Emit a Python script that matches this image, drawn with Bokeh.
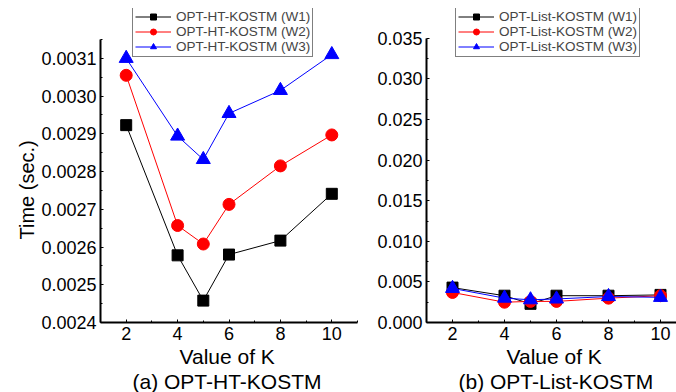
from bokeh.plotting import figure
from bokeh.layouts import row
from bokeh.models import Range1d, FixedTicker, Legend, LegendItem, Title, PrintfTickFormatter
from bokeh.embed import file_html
from bokeh.resources import INLINE

# ---- data ----
k_values = [2, 4, 5, 6, 8, 10]

ht_w1 = [0.002923, 0.002578, 0.002458, 0.002580, 0.002617, 0.002741]
ht_w2 = [0.003055, 0.002657, 0.002608, 0.002713, 0.002815, 0.002897]
ht_w3 = [0.003100, 0.002894, 0.002832, 0.002954, 0.003015, 0.003110]

list_w1 = [0.00430, 0.00330, 0.00230, 0.00330, 0.00330, 0.00340]
list_w2 = [0.00370, 0.00250, 0.00260, 0.00260, 0.00300, 0.00330]
list_w3 = [0.00420, 0.00300, 0.00280, 0.00290, 0.00320, 0.00310]

ht_labels = ["OPT-HT-KOSTM (W1)", "OPT-HT-KOSTM (W2)", "OPT-HT-KOSTM (W3)"]
list_labels = ["OPT-List-KOSTM (W1)", "OPT-List-KOSTM (W2)", "OPT-List-KOSTM (W3)"]

x_ticks = [2, 4, 6, 8, 10]
x_minor = [1, 3, 5, 7, 9, 11]
ht_yticks = [0.0024, 0.0025, 0.0026, 0.0027, 0.0028, 0.0029, 0.0030, 0.0031]
ht_yminor = [0.00245, 0.00255, 0.00265, 0.00275, 0.00285, 0.00295, 0.00305, 0.00315]
list_yticks = [0.000, 0.005, 0.010, 0.015, 0.020, 0.025, 0.030, 0.035]
list_yminor = [0.0025, 0.0075, 0.0125, 0.0175, 0.0225, 0.0275, 0.0325]

ht_axis_bounds = (0.0024, 0.00315)
list_axis_bounds = (0.0, 0.035)

x_axis_title = "Value of K"
y_axis_title = "Time (sec.)"
caption_a = "(a) OPT-HT-KOSTM"
caption_b = "(b) OPT-List-KOSTM"

colors = ["black", "#FF0000", "#0000FF"]
markers = ["square", "circle", "triangle"]
msizes = [11, 12, 14]

FONT = "Liberation Sans"
H = 392
FRAME_TOP = 8
FRAME_BOTTOM = 323
FRAME_H = FRAME_BOTTOM - FRAME_TOP


def style_axes(p, yfmt, bounds):
    for ax in (p.xaxis[0], p.yaxis[0]):
        ax.axis_line_width = 2
        ax.axis_line_color = "black"
        ax.major_tick_in = 3
        ax.major_tick_out = 0
        ax.minor_tick_in = 2
        ax.minor_tick_out = 0
        ax.major_tick_line_color = "black"
        ax.minor_tick_line_color = "black"
        ax.major_label_text_font = FONT
        ax.major_label_text_font_size = "18px"
        ax.major_label_text_color = "black"
        ax.major_label_standoff = 4
    p.yaxis[0].bounds = bounds
    p.yaxis[0].formatter = PrintfTickFormatter(format=yfmt)
    p.xgrid.visible = False
    p.ygrid.visible = False
    p.outline_line_color = None


def add_series(p, ys_list, labels, loc):
    items = []
    for ys, lab, c, m, s in zip(ys_list, labels, colors, markers, msizes):
        lr = p.line(k_values, ys, line_color=c, line_width=1)
        sr = p.scatter(k_values, ys, marker=m, size=s, fill_color=c, line_color=c)
        items.append(LegendItem(label=lab, renderers=[lr, sr]))
    leg = Legend(items=items, location=loc, margin=0, padding=2, spacing=0,
                 glyph_width=36, glyph_height=15, label_height=15, label_standoff=5,
                 label_text_font=FONT, label_text_font_size="13.5px",
                 border_line_color="black", border_line_width=1,
                 background_fill_color="white", background_fill_alpha=1.0)
    p.add_layout(leg)


def add_bottom_titles(p, off1, off2, caption):
    p.add_layout(Title(text=x_axis_title, align="left", offset=off1, standoff=0,
                       text_font=FONT, text_font_size="21px", text_font_style="normal",
                       text_color="black"), "below")
    p.add_layout(Title(text=caption, align="left", offset=off2, standoff=0,
                       text_font=FONT, text_font_size="21px", text_font_style="normal",
                       text_color="black"), "below")


def top_of_range(lo, hi_tick, hi_tick_px):
    # extend y range so that the frame reaches FRAME_TOP while hi_tick sits at hi_tick_px
    per_px = (hi_tick - lo) / (FRAME_BOTTOM - hi_tick_px)
    return lo + per_px * FRAME_H


# ---- left figure ----
ht_top = top_of_range(0.0024, 0.0031, 58)
p1 = figure(width=362, height=H, x_range=Range1d(1, 11), y_range=Range1d(0.0024, ht_top),
            output_backend="svg", toolbar_location=None,
            min_border_left=100, min_border_right=5, min_border_top=FRAME_TOP,
            min_border_bottom=H - FRAME_BOTTOM)
p1.xaxis[0].ticker = FixedTicker(ticks=x_ticks, minor_ticks=x_minor)
p1.yaxis[0].ticker = FixedTicker(ticks=ht_yticks, minor_ticks=ht_yminor)
style_axes(p1, "%.4f", ht_axis_bounds)
p1.add_layout(Title(text=y_axis_title, align="left", offset=83, standoff=0,
                    vertical_align="middle",
                    text_font=FONT, text_font_size="20px", text_font_style="normal",
                    text_color="black"), "left")
add_series(p1, [ht_w1, ht_w2, ht_w3], ht_labels, (32, 265))
add_bottom_titles(p1, 79, 32, caption_a)

# ---- right figure ----
list_top = top_of_range(0.0, 0.035, 38)
p2 = figure(width=314, height=H, x_range=Range1d(1, 1 + 250 / 26.0), y_range=Range1d(0.0, list_top),
            output_backend="svg", toolbar_location=None,
            min_border_left=64, min_border_right=0, min_border_top=FRAME_TOP,
            min_border_bottom=H - FRAME_BOTTOM)
p2.xaxis[0].ticker = FixedTicker(ticks=x_ticks, minor_ticks=x_minor)
p2.yaxis[0].ticker = FixedTicker(ticks=list_yticks, minor_ticks=list_yminor)
style_axes(p2, "%.3f", list_axis_bounds)
add_series(p2, [list_w1, list_w2, list_w3], list_labels, (29, 265))
add_bottom_titles(p2, 80, 32, caption_b)

layout = row(p1, p2, spacing=0)
open("out.html", "w").write(file_html(layout, INLINE))
